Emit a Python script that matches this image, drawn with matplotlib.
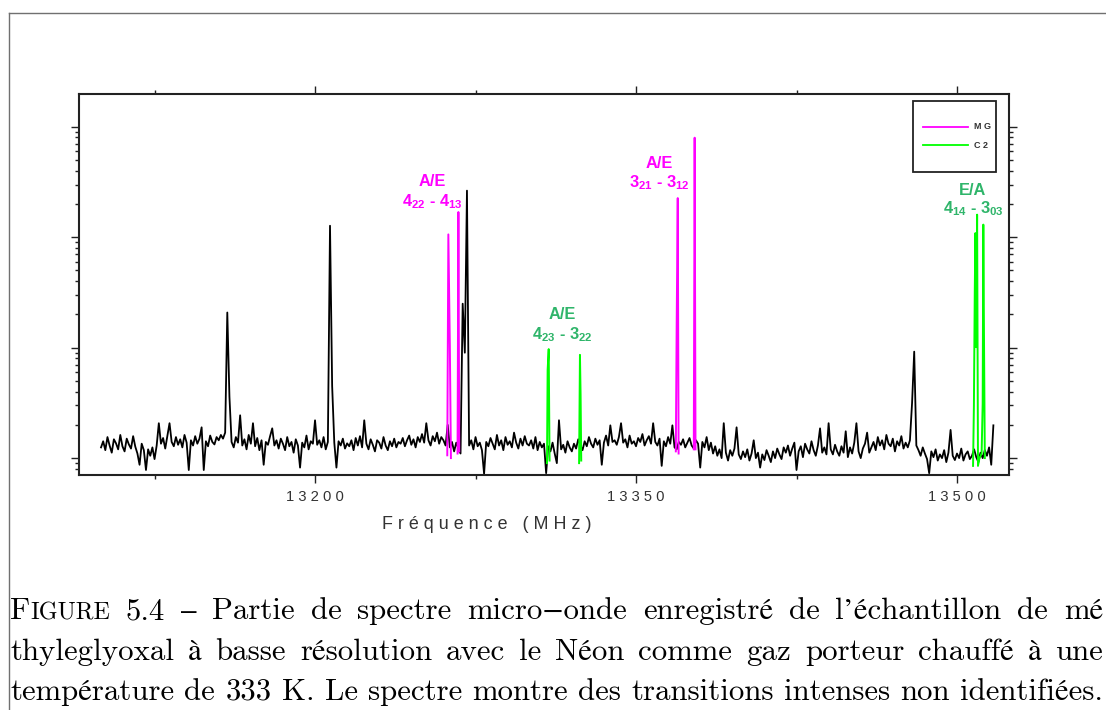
import numpy as np
import matplotlib.pyplot as plt
from matplotlib.lines import Line2D
from matplotlib.patches import Rectangle
from matplotlib.ticker import FuncFormatter, LogLocator, NullFormatter

plt.rcParams['mathtext.fontset'] = 'custom'
plt.rcParams['mathtext.rm'] = 'Liberation Sans:bold'

# Spectre basse résolution (pas de 1 MHz à partir de 13100 MHz)
freq_debut = 13100
intensite = [
    1.25, 1.42, 1.18, 1.55, 1.30, 1.12, 1.48, 1.36, 1.20, 1.62, 1.28, 1.15, 1.50, 1.33, 1.22, 1.58, 1.27, 1.10, 0.87, 1.35,
    1.18, 0.78, 1.20, 1.05, 1.25, 0.98, 1.30, 2.07, 1.35, 1.52, 1.22, 1.60, 2.07, 1.40, 1.28, 1.55, 1.32, 1.48, 1.25, 1.62,
    1.38, 0.78, 1.45, 1.30, 1.58, 1.35, 1.50, 1.90, 0.78, 1.42, 1.28, 1.60, 1.40, 1.33, 1.55, 1.45, 1.62, 1.50, 1.70, 20.8,
    3.6, 1.40, 1.25, 1.55, 1.38, 2.44, 1.30, 1.48, 1.20, 1.62, 1.35, 2.07, 1.28, 1.52, 1.18, 1.45, 0.87, 1.40, 1.32, 1.58,
    1.86, 1.30, 1.45, 1.22, 1.50, 1.35, 1.18, 1.55, 1.28, 1.40, 1.12, 1.48, 1.30, 0.82, 1.38, 1.25, 1.60, 1.20, 1.42, 1.35,
    2.20, 1.32, 1.45, 1.25, 1.55, 1.20, 1.40, 127.0, 4.5, 1.38, 0.82, 1.42, 1.30, 1.50, 1.22, 1.36, 1.28, 1.45, 1.18, 1.52,
    1.30, 1.58, 1.25, 2.20, 1.35, 1.20, 1.48, 1.32, 1.15, 1.45, 1.38, 1.22, 1.55, 1.30, 1.18, 1.42, 1.28, 1.50, 1.25, 1.40,
    1.35, 1.52, 1.28, 1.45, 1.60, 1.32, 1.48, 1.25, 1.55, 1.40, 1.65, 1.38, 2.07, 1.45, 1.30, 1.58, 1.42, 1.70, 1.35, 1.55,
    1.45, 1.30, 2.00, 1.25, 1.40, 1.15, 1.38, 1.22, 1.10, 25.0, 9.0, 264.0, 1.30, 1.45, 1.20, 1.55, 1.28, 1.38, 1.18, 0.72,
    1.40, 1.28, 1.52, 1.35, 1.20, 1.62, 1.30, 1.45, 1.18, 1.55, 1.32, 1.42, 1.25, 1.70, 1.38, 1.22, 1.50, 1.30, 1.58, 1.35,
    1.30, 1.45, 1.22, 1.55, 1.18, 1.40, 1.25, 1.35, 0.73, 1.28, 1.15, 1.38, 1.10, 0.90, 2.20, 1.20, 1.32, 1.12, 1.42, 1.25,
    1.15, 1.35, 1.22, 1.48, 1.30, 1.18, 1.42, 1.28, 1.55, 1.35, 1.25, 1.50, 1.32, 1.45, 0.87, 1.38, 1.60, 1.30, 1.98, 1.40,
    1.45, 1.32, 1.55, 2.07, 1.38, 1.48, 1.25, 1.60, 1.35, 1.42, 1.28, 1.52, 1.40, 1.65, 1.30, 1.45, 1.58, 1.35, 2.07, 1.40,
    1.30, 1.50, 0.85, 1.42, 1.28, 1.55, 1.35, 1.98, 1.25, 1.20, 1.40, 1.32, 1.48, 1.25, 1.38, 1.52, 1.30, 1.22, 1.45, 1.35,
    0.82, 1.40, 1.25, 1.55, 1.18, 1.38, 1.10, 1.28, 1.05, 1.20, 1.00, 2.07, 1.12, 0.95, 1.18, 1.05, 1.22, 1.90, 1.08, 0.98,
    1.15, 1.02, 1.20, 0.95, 1.10, 1.45, 1.00, 1.12, 0.82, 1.08, 0.96, 1.18, 1.05, 0.92, 1.15, 1.00, 1.22, 1.08, 0.98, 1.25,
    1.12, 1.30, 1.05, 1.22, 1.38, 0.78, 1.15, 1.28, 1.02, 1.35, 1.20, 1.10, 1.42, 1.18, 1.05, 1.30, 1.86, 1.12, 1.25, 1.08,
    2.07, 1.20, 1.08, 1.32, 1.15, 1.05, 1.28, 1.12, 1.75, 1.02, 1.25, 1.10, 1.38, 2.07, 1.15, 1.00, 1.22, 1.35, 1.70, 1.12,
    1.25, 1.40, 1.18, 1.55, 1.30, 1.45, 1.20, 1.62, 1.35, 1.28, 1.50, 1.15, 1.42, 1.30, 1.58, 1.22, 1.38, 1.25, 1.45, 3.15,
    9.2, 1.30, 1.18, 1.05, 1.25, 1.10, 0.98, 0.73, 1.15, 1.02, 1.20, 0.95, 1.08, 1.00, 1.18, 0.92, 1.12, 1.80, 1.05, 0.96,
    1.10, 1.00, 1.22, 0.95, 1.08, 1.15, 0.98, 1.05, 1.20, 1.02, 0.92, 1.12, 1.00, 1.18, 1.05, 1.25, 0.87, 1.98,
]
freq = freq_debut + np.arange(len(intensite))

# Raies attribuées au méthylglyoxal (MG)
mg_freq = [13261.8, 13262.3, 13263.0, 13263.5, np.nan,
           13266.6, 13267.0, 13267.4, np.nan,
           13368.6, 13369.0, 13369.5, 13369.9, np.nan,
           13377.0, 13377.4, 13377.8]
mg_int = [1.06, 106, 10.4, 1.0, np.nan,
          1.1, 169, 1.15, np.nan,
          1.15, 16.1, 226, 1.1, np.nan,
          1.2, 796, 1.2]

# Raies attribuées au conformère C2
c2_freq = [13308.4, 13308.7, 13309.2, 13309.6, np.nan,
           13323.4, 13323.8, 13324.1, 13324.4, np.nan,
           13507.5, 13507.9, 13508.3, 13508.6, 13509.0, 13509.4, 13509.8,
           13510.5, 13511.5, 13512.0, 13512.3, 13512.6, 13513.0]
c2_int = [0.9, 6.3, 9.7, 0.95, np.nan,
          0.9, 8.6, 3.8, 0.95, np.nan,
          0.85, 3.0, 31.5, 109, 10.1, 160, 0.85,
          1.0, 1.1, 3.1, 130, 13.7, 1.0]

# Etiquettes des transitions
lab_freq = [13254.8, 13315.4, 13361.0, 13507.4]
lab_sym = ['A/E', 'A/E', 'A/E', 'E/A']
lab_sym_y = [288, 18.1, 421, 243]
lab_trans = [r'4$_{\mathrm{22}}$ - 4$_{\mathrm{13}}$', r'4$_{\mathrm{23}}$ - 3$_{\mathrm{22}}$',
             r'3$_{\mathrm{21}}$ - 3$_{\mathrm{12}}$', r'4$_{\mathrm{14}}$ - 3$_{\mathrm{03}}$']
lab_trans_y = [190, 12.0, 282, 166]
lab_col = ['#ff00ff', '#2fb56a', '#ff00ff', '#2fb56a']

W, H = 1106, 710
fig = plt.figure(figsize=(W / 100, H / 100), dpi=100)
ax = fig.add_axes([79 / W, 1 - 475 / H, 930 / W, 381 / H])

ax.plot(freq, intensite, color='black', lw=1.3)
ax.plot(mg_freq, mg_int, color='#ff00ff', lw=1.4)
ax.plot(c2_freq, c2_int, color='#00ff00', lw=1.4)

ax.set_yscale('log')
ax.set_xlim(13089.7, 13524.3)
ax.set_ylim(0.703, 1980)

ax.set_xticks([13200, 13350, 13500])
ax.set_xticks([13125, 13275, 13425], minor=True)
ax.xaxis.set_major_formatter(FuncFormatter(lambda v, p: ' '.join(f'{v:.0f}')))
ax.yaxis.set_major_locator(LogLocator(base=10, numticks=10))
ax.yaxis.set_minor_locator(LogLocator(base=10, subs=np.arange(2, 10), numticks=20))
ax.yaxis.set_major_formatter(NullFormatter())
ax.yaxis.set_minor_formatter(NullFormatter())
ax.tick_params(which='both', direction='out', top=True, right=True, width=1.0, color='#222222')
ax.tick_params(which='major', length=6)
ax.tick_params(which='minor', length=3.2)
ax.tick_params(axis='x', which='major', labelsize=10.6, labelcolor='#333333', pad=4.5)
for lab in ax.get_xticklabels():
    lab.set_family('Liberation Sans')
for s in ax.spines.values():
    s.set_linewidth(1.5)
    s.set_color('#222222')

ax.set_xlabel('F r é q u e n c e   ( M H z )', fontsize=12.9, family='Liberation Sans', color='#333333')
ax.xaxis.set_label_coords(0.4387, -0.131)
ax.xaxis.label.set_va('center')

for f, s, sy, t, ty, c in zip(lab_freq, lab_sym, lab_sym_y, lab_trans, lab_trans_y, lab_col):
    ax.text(f, sy, s, color=c, fontsize=11.8, fontweight='bold', family='Liberation Sans',
            ha='center', va='baseline')
    ax.text(f, ty, t, color=c, fontsize=11.8, fontweight='bold', family='Liberation Sans',
            ha='center', va='baseline')

# Légende (style Origin)
ax.add_patch(Rectangle((0.8968, 0.7953), 0.0892, 0.1863, transform=ax.transAxes,
                       fill=False, ec='#222222', lw=1.3, zorder=5))
for yy, col, txt in [(0.9142, '#ff00ff', 'M G'), (0.8661, '#00ff00', 'C 2')]:
    ax.add_line(Line2D([0.9075, 0.9559], [yy, yy], transform=ax.transAxes, color=col, lw=1.3))
    ax.text(0.9624, yy, txt, transform=ax.transAxes, fontsize=6.5, family='Liberation Sans',
            color='#333333', va='center', ha='left', fontweight='bold')

# Cadre de la page
fig.add_artist(Line2D([9 / W, 9 / W], [0, 1 - 13 / H], transform=fig.transFigure, color='#707070', lw=1.0))
fig.add_artist(Line2D([9 / W, 1], [1 - 13 / H, 1 - 13 / H], transform=fig.transFigure, color='#707070', lw=1.0))

# Légende de la figure (texte LaTeX justifié)
cap_font = ['cmr10', 'STIXGeneral']
S = 22.2
r = fig.canvas.get_renderer()


def caption_line(y_px, words, right=None):
    items = []
    for w in words:
        parts = w if isinstance(w, list) else [(w, S)]
        objs, width = [], 0.0
        for txt, size in parts:
            t = fig.text(0, 1 - y_px / H, txt, fontsize=size, family=cap_font, va='baseline', ha='left')
            objs.append((t, width))
            width += t.get_window_extent(r).width
        items.append((objs, width))
    total = sum(w for _, w in items)
    if right is None:
        gap = 0.333 * S * 100 / 72
    else:
        gap = (right - 10 - total) / (len(items) - 1)
    x = 10.0
    for objs, w in items:
        for t, off in objs:
            t.set_x((x + off) / W)
        x += w + gap


line1 = [[('F', S), ('IGURE', S * 0.78)]] + '5.4 – Partie de spectre micro−onde enregistré de l’échantillon de mé'.split(' ')
line2 = 'thyleglyoxal à basse résolution avec le Néon comme gaz porteur chauffé à une'.split(' ')
line3 = 'température de 333 K. Le spectre montre des transitions intenses non identifiées.'.split(' ')
caption_line(619, line1, right=1103)
caption_line(660, line2, right=1103)
caption_line(700, line3)

fig.savefig('out.png', dpi=100)
